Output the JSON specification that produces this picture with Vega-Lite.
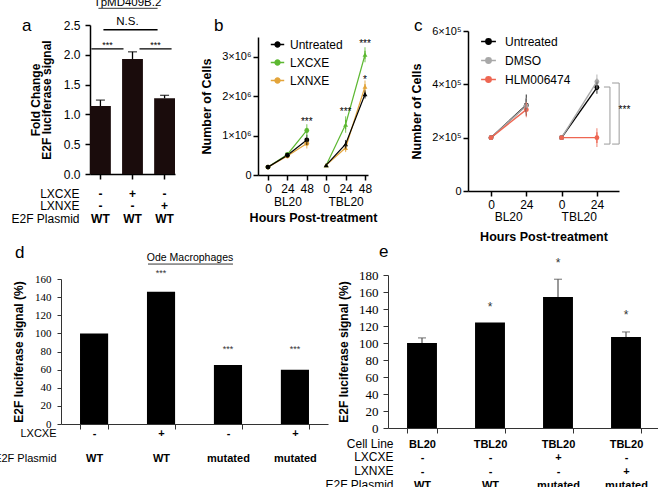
{
  "$schema": "https://vega.github.io/schema/vega-lite/v6.json",
  "background": "white",
  "padding": {"left": -7, "top": -4, "right": 0, "bottom": 0},
  "center": true,
  "spacing": 0,
  "resolve": {"scale": {"x": "independent", "y": "independent", "color": "independent", "shape": "independent", "size": "independent"}, "axis": {"x": "independent", "y": "independent"}, "legend": {"color": "independent", "shape": "independent", "size": "independent"}},
  "config": {
    "view": {"stroke": null},
    "font": "Liberation Sans",
    "axis": {"grid": false, "domainColor": "#000", "tickColor": "#000", "labelColor": "#000", "titleColor": "#000", "labelFont": "Liberation Sans", "titleFont": "Liberation Sans", "labelFontSize": 12, "titleFontSize": 12, "titleFontWeight": "bold", "tickSize": 5, "labelOverlap": false, "labelFlush": false},
    "title": {"font": "Liberation Sans", "fontSize": 17, "fontWeight": "normal", "anchor": "start", "frame": "group", "offset": 2, "color": "#000"},
    "text": {"font": "Liberation Sans", "color": "#000"}
  },
  "vconcat": [
    {
      "spacing": 25,
      "resolve": {"scale": {"x": "independent", "y": "independent", "color": "independent", "shape": "independent", "size": "independent"}, "axis": {"x": "independent", "y": "independent"}, "legend": {"color": "independent", "shape": "independent", "size": "independent"}},
      "hconcat": [
        {
          "title": {"text": "a", "dx": -68, "dy": 40},
          "width": 85,
          "height": 149,
          "layer": [
            {
              "data": {"values": [
                {"cat": "-|-|WT", "v": 1.14, "hi": 1.24},
                {"cat": "+|-|WT", "v": 1.93, "hi": 2.05},
                {"cat": "-|+|WT", "v": 1.27, "hi": 1.32}
              ]},
              "layer": [
                {
                  "mark": {"type": "bar", "color": "#1a0c0c"},
                  "encoding": {
                    "x": {"field": "cat", "type": "nominal", "sort": null,
                      "scale": {"domain": ["-|-|WT", "+|-|WT", "-|+|WT"], "paddingInner": 0.35, "paddingOuter": 0},
                      "axis": {"title": ["LXCXE", "LXNXE", "E2F Plasmid"], "titleFontWeight": "normal", "titleFontSize": 12, "titleAngle": 0, "titleAlign": "right", "titleBaseline": "top", "titleLineHeight": 12.5, "titleX": -11, "titleY": 14,
                        "labelExpr": "split(datum.label, '|')", "labelAngle": 0, "labelFontWeight": "bold", "labelFontSize": 12, "labelLineHeight": 12.5, "labelPadding": 9, "labelOverlap": false, "domainWidth": 1.5, "tickWidth": 1.5}},
                    "y": {"field": "v", "type": "quantitative", "scale": {"domain": [0, 2.5], "nice": false},
                      "axis": {"tickCount": 5, "format": ".1f", "labelOverlap": false, "title": ["Fold Change", "E2F luciferase signal"], "titleLineHeight": 11, "titlePadding": 10, "labelPadding": 5, "domainWidth": 1.5, "tickWidth": 1.5}}
                  }
                },
                {
                  "mark": {"type": "rule", "color": "#000", "strokeWidth": 1.3},
                  "encoding": {"x": {"field": "cat", "type": "nominal", "sort": null}, "y": {"field": "v", "type": "quantitative"}, "y2": {"field": "hi"}}
                },
                {
                  "mark": {"type": "tick", "color": "#000", "thickness": 1.3},
                  "encoding": {"x": {"field": "cat", "type": "nominal", "sort": null}, "y": {"field": "hi", "type": "quantitative"}, "size": {"value": 9}}
                }
              ]
            },
            {
              "data": {"values": [{"a": "-|-|WT", "b": "-|+|WT", "y": 2.42}]},
              "mark": {"type": "rule", "color": "#000", "strokeWidth": 1.3, "xOffset": 3, "x2Offset": -7},
              "encoding": {"x": {"field": "a", "type": "nominal"}, "x2": {"field": "b"}, "y": {"field": "y", "type": "quantitative"}}
            },
            {
              "data": {"values": [{"a": "-|-|WT", "b": "+|-|WT", "y": 2.1}]},
              "mark": {"type": "rule", "color": "#000", "strokeWidth": 1.3, "xOffset": -9, "x2Offset": -9},
              "encoding": {"x": {"field": "a", "type": "nominal"}, "x2": {"field": "b"}, "y": {"field": "y", "type": "quantitative"}}
            },
            {
              "data": {"values": [{"a": "+|-|WT", "b": "-|+|WT", "y": 2.1}]},
              "mark": {"type": "rule", "color": "#000", "strokeWidth": 1.3, "xOffset": 7, "x2Offset": 7},
              "encoding": {"x": {"field": "a", "type": "nominal"}, "x2": {"field": "b"}, "y": {"field": "y", "type": "quantitative"}}
            },
            {
              "data": {"values": [{"a": "-|-|WT", "y": 2.17, "t": "***"}]},
              "mark": {"type": "text", "fontSize": 9, "xOffset": 7, "color": "#000"},
              "encoding": {"x": {"field": "a", "type": "nominal"}, "y": {"field": "y", "type": "quantitative"}, "text": {"field": "t"}}
            },
            {
              "data": {"values": [{"a": "-|+|WT", "y": 2.17, "t": "***"}]},
              "mark": {"type": "text", "fontSize": 9, "xOffset": -9, "color": "#000"},
              "encoding": {"x": {"field": "a", "type": "nominal"}, "y": {"field": "y", "type": "quantitative"}, "text": {"field": "t"}}
            },
            {
              "data": {"values": [{"a": "+|-|WT", "y": 2.55, "t": "N.S."}, {"a": "+|-|WT", "y": 2.87, "t": "TpMD409B.2"}]},
              "mark": {"type": "text", "fontSize": 11.5, "xOffset": -5, "color": "#000"},
              "encoding": {"x": {"field": "a", "type": "nominal"}, "y": {"field": "y", "type": "quantitative"}, "text": {"field": "t"}}
            },
            {
              "data": {"values": [{"a": "-|-|WT", "b": "-|+|WT", "y": 2.78}]},
              "mark": {"type": "rule", "color": "#000", "strokeWidth": 0.8, "xOffset": -2, "x2Offset": -7},
              "encoding": {"x": {"field": "a", "type": "nominal"}, "x2": {"field": "b"}, "y": {"field": "y", "type": "quantitative"}}
            }
          ]
        },
        {
          "title": {"text": "b", "dx": -44, "dy": 12},
          "width": 127,
          "height": 150,
          "layer": [
            {
              "data": {"values": [
                {"s": "LXCXE", "g": "BL20", "p": 0, "v": 200000, "lo": 200000, "hi": 200000},
                {"s": "LXCXE", "g": "BL20", "p": 1, "v": 520000, "lo": 520000, "hi": 520000},
                {"s": "LXCXE", "g": "BL20", "p": 2, "v": 1130000, "lo": 1060000, "hi": 1200000},
                {"s": "LXCXE", "g": "TBL20", "p": 3, "v": 250000, "lo": 250000, "hi": 250000},
                {"s": "LXCXE", "g": "TBL20", "p": 4, "v": 1280000, "lo": 1160000, "hi": 1400000},
                {"s": "LXCXE", "g": "TBL20", "p": 5, "v": 3050000, "lo": 2950000, "hi": 3150000},
                {"s": "LXNXE", "g": "BL20", "p": 0, "v": 200000, "lo": 200000, "hi": 200000},
                {"s": "LXNXE", "g": "BL20", "p": 1, "v": 480000, "lo": 480000, "hi": 480000},
                {"s": "LXNXE", "g": "BL20", "p": 2, "v": 800000, "lo": 760000, "hi": 840000},
                {"s": "LXNXE", "g": "TBL20", "p": 3, "v": 250000, "lo": 250000, "hi": 250000},
                {"s": "LXNXE", "g": "TBL20", "p": 4, "v": 690000, "lo": 670000, "hi": 710000},
                {"s": "LXNXE", "g": "TBL20", "p": 5, "v": 2240000, "lo": 2170000, "hi": 2310000},
                {"s": "Untreated", "g": "BL20", "p": 0, "v": 200000, "lo": 200000, "hi": 200000},
                {"s": "Untreated", "g": "BL20", "p": 1, "v": 500000, "lo": 500000, "hi": 500000},
                {"s": "Untreated", "g": "BL20", "p": 2, "v": 890000, "lo": 850000, "hi": 930000},
                {"s": "Untreated", "g": "TBL20", "p": 3, "v": 250000, "lo": 250000, "hi": 250000},
                {"s": "Untreated", "g": "TBL20", "p": 4, "v": 780000, "lo": 760000, "hi": 800000},
                {"s": "Untreated", "g": "TBL20", "p": 5, "v": 2050000, "lo": 2030000, "hi": 2070000}
              ]},
              "encoding": {
                "x": {"field": "p", "type": "quantitative",
                  "scale": {"domain": [-0.515, 5.155], "range": [0, 110], "nice": false, "zero": false},
                  "axis": {"tickCount": 6, "labelOverlap": false, "labelExpr": "[['0',''],['24','BL20'],['48',''],['0',''],['24','TBL20'],['48','']][datum.value]", "labelLineHeight": 13, "labelPadding": 3, "labelFontSize": 12, "title": "Hours Post-treatment", "titleFontSize": 12.5, "titlePadding": 4, "domainWidth": 1.5, "tickWidth": 1.5}},
                "y": {"field": "v", "type": "quantitative",
                  "scale": {"domain": [0, 3500000], "range": [150, 12], "nice": false},
                  "axis": {"tickCount": 4, "labelOverlap": false, "labelExpr": "datum.value == 0 ? '0' : format(datum.value / 1000000, 'd') + '×10⁶'", "labelFontSize": 11, "labelPadding": 2, "title": "Number of Cells", "titleFontSize": 12.5, "titlePadding": 8, "domainWidth": 1.5, "tickWidth": 1.5}},
                "color": {"field": "s", "type": "nominal",
                  "scale": {"domain": ["Untreated", "LXCXE", "LXNXE"], "range": ["#000000", "#5db832", "#e3a43a"]},
                  "legend": {"orient": "none", "legendX": 12, "legendY": 12, "title": null, "symbolType": "M-1,0H1M0.36,0A0.36,0.36,0,1,1,-0.36,0A0.36,0.36,0,1,1,0.36,0Z", "symbolSize": 180, "symbolStrokeWidth": 1.5, "labelFontSize": 12, "labelOffset": 5, "rowPadding": 4, "padding": 0,
                    "encode": {"symbols": {"update": {"fill": {"scale": "color", "field": "value"}, "stroke": {"scale": "color", "field": "value"}, "opacity": {"value": 1}}}}}}
              },
              "layer": [
                {"mark": {"type": "line", "strokeWidth": 1.2}, "encoding": {"detail": {"field": "g"}}},
                {"mark": {"type": "point", "filled": true, "size": 24, "opacity": 1},
                 "encoding": {"shape": {"field": "g", "type": "nominal", "scale": {"domain": ["BL20", "TBL20"], "range": ["circle", "triangle-up"]}, "legend": null}}},
                {"transform": [{"filter": "datum.hi > datum.lo"}],
                 "mark": {"type": "rule", "strokeWidth": 1.2},
                 "encoding": {"y": {"field": "lo", "type": "quantitative"}, "y2": {"field": "hi"}}},
                {"transform": [{"filter": "datum.hi > datum.lo"}],
                 "mark": {"type": "tick", "thickness": 1.2},
                 "encoding": {"y": {"field": "hi", "type": "quantitative"}, "size": {"value": 7}}},
                {"transform": [{"filter": "datum.hi > datum.lo"}],
                 "mark": {"type": "tick", "thickness": 1.2},
                 "encoding": {"y": {"field": "lo", "type": "quantitative"}, "size": {"value": 7}}}
              ]
            },
            {
              "data": {"values": [
                {"p": 2, "v": 1350000, "t": "***"},
                {"p": 4, "v": 1600000, "t": "***"},
                {"p": 5, "v": 3330000, "t": "***"},
                {"p": 5, "v": 2400000, "t": "*"}
              ]},
              "mark": {"type": "text", "fontSize": 10, "color": "#000"},
              "encoding": {"x": {"field": "p", "type": "quantitative"}, "y": {"field": "v", "type": "quantitative"}, "text": {"field": "t"}, "color": {"value": "#000"}}
            }
          ]
        },
        {
          "title": {"text": "c", "dx": -54, "dy": 12},
          "width": 163,
          "height": 166,
          "layer": [
            {
              "data": {"values": [
                {"s": "Untreated", "g": "BL20", "p": 0, "v": 200000, "lo": 200000, "hi": 200000},
                {"s": "Untreated", "g": "BL20", "p": 1, "v": 322000, "lo": 297000, "hi": 347000},
                {"s": "Untreated", "g": "TBL20", "p": 2, "v": 200000, "lo": 200000, "hi": 200000},
                {"s": "Untreated", "g": "TBL20", "p": 3, "v": 388000, "lo": 380000, "hi": 396000},
                {"s": "DMSO", "g": "BL20", "p": 0, "v": 200000, "lo": 200000, "hi": 200000},
                {"s": "DMSO", "g": "BL20", "p": 1, "v": 320000, "lo": 305000, "hi": 335000},
                {"s": "DMSO", "g": "TBL20", "p": 2, "v": 200000, "lo": 200000, "hi": 200000},
                {"s": "DMSO", "g": "TBL20", "p": 3, "v": 410000, "lo": 398000, "hi": 422000},
                {"s": "HLM006474", "g": "BL20", "p": 0, "v": 200000, "lo": 200000, "hi": 200000},
                {"s": "HLM006474", "g": "BL20", "p": 1, "v": 305000, "lo": 292000, "hi": 318000},
                {"s": "HLM006474", "g": "TBL20", "p": 2, "v": 200000, "lo": 200000, "hi": 200000},
                {"s": "HLM006474", "g": "TBL20", "p": 3, "v": 200000, "lo": 180000, "hi": 220000}
              ]},
              "encoding": {
                "x": {"field": "p", "type": "quantitative",
                  "scale": {"domain": [-0.652, 3.626], "range": [0, 151], "nice": false, "zero": false},
                  "axis": {"tickCount": 4, "labelOverlap": false, "labelExpr": "datum.value % 2 == 0 ? '0' : '24'", "labelPadding": 3, "labelFontSize": 12, "title": "Hours Post-treatment", "titleFontSize": 12.5, "titlePadding": 20, "domainWidth": 1.5, "tickWidth": 1.5}},
                "y": {"field": "v", "type": "quantitative",
                  "scale": {"domain": [0, 600000], "range": [166, 6], "nice": false},
                  "axis": {"tickCount": 3, "labelOverlap": false, "labelExpr": "datum.value == 0 ? '0' : format(datum.value / 100000, 'd') + '×10⁵'", "labelFontSize": 11, "labelPadding": 2, "title": "Number of Cells", "titleFontSize": 12.5, "titlePadding": 8, "domainWidth": 1.5, "tickWidth": 1.5}},
                "color": {"field": "s", "type": "nominal",
                  "scale": {"domain": ["Untreated", "DMSO", "HLM006474"], "range": ["#000000", "#a8a8a8", "#ee6652"]},
                  "legend": {"orient": "none", "legendX": 12, "legendY": 8, "title": null, "symbolType": "M-1,0H1M0.36,0A0.36,0.36,0,1,1,-0.36,0A0.36,0.36,0,1,1,0.36,0Z", "symbolSize": 220, "symbolStrokeWidth": 1.5, "labelFontSize": 12, "labelOffset": 8, "rowPadding": 4, "padding": 0,
                    "encode": {"symbols": {"update": {"fill": {"scale": "color", "field": "value"}, "stroke": {"scale": "color", "field": "value"}, "opacity": {"value": 1}}}}}}
              },
              "layer": [
                {"mark": {"type": "line", "strokeWidth": 1.4}, "encoding": {"detail": {"field": "g"}}},
                {"mark": {"type": "point", "filled": true, "size": 24, "opacity": 1}},
                {"transform": [{"filter": "datum.hi > datum.lo"}],
                 "mark": {"type": "rule", "strokeWidth": 1.2},
                 "encoding": {"y": {"field": "lo", "type": "quantitative"}, "y2": {"field": "hi"}}},
                {"transform": [{"filter": "datum.hi > datum.lo"}],
                 "mark": {"type": "tick", "thickness": 1.2},
                 "encoding": {"y": {"field": "hi", "type": "quantitative"}, "size": {"value": 8}}},
                {"transform": [{"filter": "datum.hi > datum.lo"}],
                 "mark": {"type": "tick", "thickness": 1.2},
                 "encoding": {"y": {"field": "lo", "type": "quantitative"}, "size": {"value": 8}}}
              ]
            },
            {
              "data": {"values": [
                {"x1": 3.43, "x2": 3.63, "y1": 405000, "y2": 405000},
                {"x1": 3.63, "x2": 3.63, "y1": 405000, "y2": 176000},
                {"x1": 3.43, "x2": 3.63, "y1": 176000, "y2": 176000},
                {"x1": 3.2, "x2": 3.37, "y1": 390000, "y2": 390000},
                {"x1": 3.37, "x2": 3.37, "y1": 390000, "y2": 176000},
                {"x1": 3.2, "x2": 3.37, "y1": 176000, "y2": 176000}
              ]},
              "mark": {"type": "rule", "color": "#9a9a9a", "strokeWidth": 1},
              "encoding": {"x": {"field": "x1", "type": "quantitative"}, "x2": {"field": "x2"}, "y": {"field": "y1", "type": "quantitative"}, "y2": {"field": "y2"}}
            },
            {
              "data": {"values": [
                {"p": 3.78, "v": 305000, "t": "***", "f": 10},
                {"p": 0.5, "v": -97500, "t": "BL20", "f": 12},
                {"p": 2.5, "v": -97500, "t": "TBL20", "f": 12}
              ]},
              "mark": {"type": "text", "clip": false, "color": "#000"},
              "encoding": {"x": {"field": "p", "type": "quantitative"}, "y": {"field": "v", "type": "quantitative"}, "text": {"field": "t"}, "size": {"field": "f", "type": "quantitative", "scale": null}, "color": {"value": "#000"}}
            }
          ]
        }
      ]
    },
    {
      "spacing": -4,
      "resolve": {"scale": {"x": "independent", "y": "independent", "color": "independent", "shape": "independent", "size": "independent"}, "axis": {"x": "independent", "y": "independent"}, "legend": {"color": "independent", "shape": "independent", "size": "independent"}},
      "hconcat": [
        {
          "title": {"text": "d", "dx": -46, "dy": 11},
          "width": 267,
          "height": 149,
          "layer": [
            {
              "data": {"values": [
                {"cat": "-|WT", "v": 100},
                {"cat": "+|WT", "v": 146},
                {"cat": "-|mutated", "v": 65},
                {"cat": "+|mutated", "v": 60}
              ]},
              "mark": {"type": "bar", "color": "#000"},
              "encoding": {
                "x": {"field": "cat", "type": "nominal", "sort": null,
                  "scale": {"domain": ["-|WT", "+|WT", "-|mutated", "+|mutated"], "paddingInner": 0.58, "paddingOuter": 0.284},
                  "axis": {"tickBand": "extent", "domainColor": "#333", "tickColor": "#333", "title": ["LXCXE", "E2F Plasmid"], "titleFontWeight": "normal", "titleFontSize": 11, "titleAngle": 0, "titleAlign": "right", "titleBaseline": "top", "titleLineHeight": 25, "titleX": -5, "titleY": 3,
                    "labelExpr": "split(datum.label, '|')", "labelOverlap": false, "labelAngle": 0, "labelFontWeight": "bold", "labelFontSize": 11, "labelLineHeight": 25, "labelPadding": -2}},
                "y": {"field": "v", "type": "quantitative",
                  "scale": {"domain": [0, 160], "range": [149, 4], "nice": false},
                  "axis": {"tickCount": 8, "labelOverlap": false, "labelFont": "Liberation Serif", "labelFontSize": 11, "tickSize": 4, "labelPadding": 6, "domainColor": "#333", "tickColor": "#333", "title": "E2F luciferase signal (%)", "titlePadding": 9}}
              }
            },
            {
              "data": {"values": [
                {"cat": "+|WT", "y": 167, "t": "***"},
                {"cat": "-|mutated", "y": 83, "t": "***"},
                {"cat": "+|mutated", "y": 83, "t": "***"}
              ]},
              "mark": {"type": "text", "fontSize": 9, "color": "#333"},
              "encoding": {"x": {"field": "cat", "type": "nominal"}, "y": {"field": "y", "type": "quantitative"}, "text": {"field": "t"}}
            },
            {
              "data": {"values": [{"cat": "+|WT", "y": 183, "t": "Ode Macrophages"}]},
              "mark": {"type": "text", "fontSize": 10.5, "xOffset": 29, "color": "#000"},
              "encoding": {"x": {"field": "cat", "type": "nominal"}, "y": {"field": "y", "type": "quantitative"}, "text": {"field": "t"}}
            },
            {
              "data": {"values": [{"a": "+|WT", "b": "-|mutated", "y": 176.5}]},
              "mark": {"type": "rule", "color": "#000", "strokeWidth": 0.8, "xOffset": -13, "x2Offset": 5},
              "encoding": {"x": {"field": "a", "type": "nominal"}, "x2": {"field": "b"}, "y": {"field": "y", "type": "quantitative"}}
            }
          ]
        },
        {
          "title": {"text": "e", "dx": -9, "dy": 6},
          "width": 272,
          "height": 153,
          "layer": [
            {
              "data": {"values": [
                {"cat": "BL20|-|-|WT", "v": 100, "hi": 106},
                {"cat": "TBL20|-|-|WT", "v": 124, "hi": 124},
                {"cat": "TBL20|+|-|mutated", "v": 154, "hi": 175},
                {"cat": "TBL20|-|+|mutated", "v": 107, "hi": 113}
              ]},
              "layer": [
                {
                  "mark": {"type": "bar", "color": "#000"},
                  "encoding": {
                    "x": {"field": "cat", "type": "nominal", "sort": null,
                      "scale": {"domain": ["BL20|-|-|WT", "TBL20|-|-|WT", "TBL20|+|-|mutated", "TBL20|-|+|mutated"], "paddingInner": 0.56, "paddingOuter": 0.28},
                      "axis": {"tickBand": "extent", "domainColor": "#333", "tickColor": "#333", "title": ["Cell Line", "LXCXE", "LXNXE", "E2F Plasmid"], "titleFontWeight": "normal", "titleFontSize": 12, "titleAngle": 0, "titleAlign": "right", "titleBaseline": "top", "titleLineHeight": 13.7, "titleX": 5, "titleY": 10,
                        "labelExpr": "split(datum.label, '|')", "labelOverlap": false, "labelAngle": 0, "labelFontWeight": "bold", "labelFontSize": 11, "labelLineHeight": 13.7, "labelPadding": 5}},
                    "y": {"field": "v", "type": "quantitative",
                      "scale": {"domain": [0, 180], "nice": false},
                      "axis": {"tickCount": 9, "labelOverlap": false, "labelFont": "Liberation Serif", "labelFontSize": 13, "tickSize": 5, "labelPadding": 5, "domainColor": "#333", "tickColor": "#333", "title": "E2F luciferase signal (%)", "titlePadding": 8}}
                  }
                },
                {
                  "transform": [{"filter": "datum.hi > datum.v"}],
                  "mark": {"type": "rule", "color": "#555", "strokeWidth": 1.2},
                  "encoding": {"x": {"field": "cat", "type": "nominal", "sort": null}, "y": {"field": "v", "type": "quantitative"}, "y2": {"field": "hi"}}
                },
                {
                  "transform": [{"filter": "datum.hi > datum.v"}],
                  "mark": {"type": "tick", "color": "#555", "thickness": 1.2},
                  "encoding": {"x": {"field": "cat", "type": "nominal", "sort": null}, "y": {"field": "hi", "type": "quantitative"}, "size": {"value": 8}}
                }
              ]
            },
            {
              "data": {"values": [
                {"cat": "TBL20|-|-|WT", "y": 142, "t": "*"},
                {"cat": "TBL20|+|-|mutated", "y": 194, "t": "*"},
                {"cat": "TBL20|-|+|mutated", "y": 133, "t": "*"}
              ]},
              "mark": {"type": "text", "fontSize": 12, "color": "#333"},
              "encoding": {"x": {"field": "cat", "type": "nominal"}, "y": {"field": "y", "type": "quantitative"}, "text": {"field": "t"}}
            }
          ]
        }
      ]
    }
  ]
}
